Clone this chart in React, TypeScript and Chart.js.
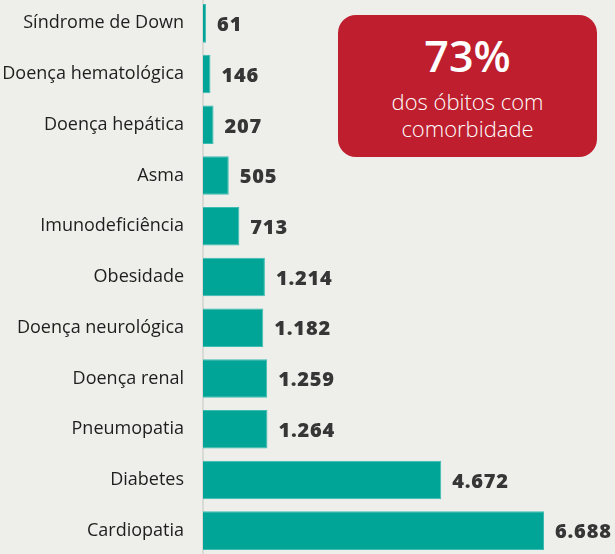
import React, { useEffect, useRef } from "react";
import { Chart, registerables } from "chart.js";

Chart.register(...registerables);

const categories = [
  "Síndrome de Down",
  "Doença hematológica",
  "Doença hepática",
  "Asma",
  "Imunodeficiência",
  "Obesidade",
  "Doença neurológica",
  "Doença renal",
  "Pneumopatia",
  "Diabetes",
  "Cardiopatia",
];
const values = [61, 146, 207, 505, 713, 1214, 1182, 1259, 1264, 4672, 6688];
const highlightValue = "73%";
const highlightLines = ["dos óbitos com", "comorbidade"];

const fmt = (v: number) => String(v).replace(/\B(?=(\d{3})+(?!\d))/g, ".");

const valueLabels = {
  id: "valueLabels",
  afterDatasetsDraw(chart: any) {
    const ctx = chart.ctx;
    const meta = chart.getDatasetMeta(0);
    ctx.save();
    ctx.font = "800 20px 'Open Sans'";
    try {
      (ctx as any).letterSpacing = "0.8px";
    } catch (e) {}
    ctx.fillStyle = "#363636";
    ctx.textBaseline = "middle";
    ctx.textAlign = "left";
    meta.data.forEach((el: any, i: number) => {
      ctx.fillText(fmt(values[i]), el.x + 11, el.y + 2);
    });
    ctx.restore();
  },
};

export default function App() {
  const ref = useRef<HTMLCanvasElement | null>(null);
  useEffect(() => {
    document.body.style.margin = "0";
    const chart = new Chart(ref.current!, {
      type: "bar",
      data: {
        labels: categories,
        datasets: [
          {
            data: values,
            backgroundColor: "#00a597",
            borderColor: "#3dbcb1",
            borderWidth: 1,
            categoryPercentage: 1,
            barPercentage: 0.76,
          },
        ],
      },
      options: {
        indexAxis: "y",
        animation: false,
        responsive: false,
        maintainAspectRatio: false,
        layout: { padding: 0 },
        plugins: { legend: { display: false }, tooltip: { enabled: false } },
        scales: {
          x: { display: false, min: 0, max: 8080 },
          y: {
            afterFit(scale: any) {
              scale.width = 203;
              scale.paddingTop = 0;
              scale.paddingBottom = 0;
            },
            grid: { display: false, drawTicks: false },
            border: { display: true, color: "#d9d9d5", width: 2 },
            ticks: {
              padding: 19,
              color: "#1e1e1e",
              font: { family: "'Open Sans'", size: 18 },
            },
          },
        },
      },
      plugins: [valueLabels],
    });
    return () => chart.destroy();
  }, []);
  return (
    <div
      style={{
        position: "relative",
        width: 615,
        height: 554,
        overflow: "hidden",
        background: "#eeeeeb",
      }}
    >
      <canvas
        ref={ref}
        width={615}
        height={558}
        style={{ position: "absolute", left: 0, top: -2, width: 615, height: 558 }}
      />
      <div
        style={{
          position: "absolute",
          left: 338,
          top: 15,
          width: 259,
          height: 142,
          background: "#be1e2d",
          borderRadius: 18,
          color: "#ffffff",
          fontFamily: "'Open Sans', sans-serif",
          textAlign: "center",
        }}
      >
        <div style={{ fontSize: 43, fontWeight: 600, lineHeight: "44px", marginTop: 19 }}>
          {highlightValue}
        </div>
        <div style={{ fontSize: 22, fontWeight: 300, lineHeight: "27px", marginTop: 10 }}>
          {highlightLines[0]}
          <br />
          {highlightLines[1]}
        </div>
      </div>
    </div>
  );
}
